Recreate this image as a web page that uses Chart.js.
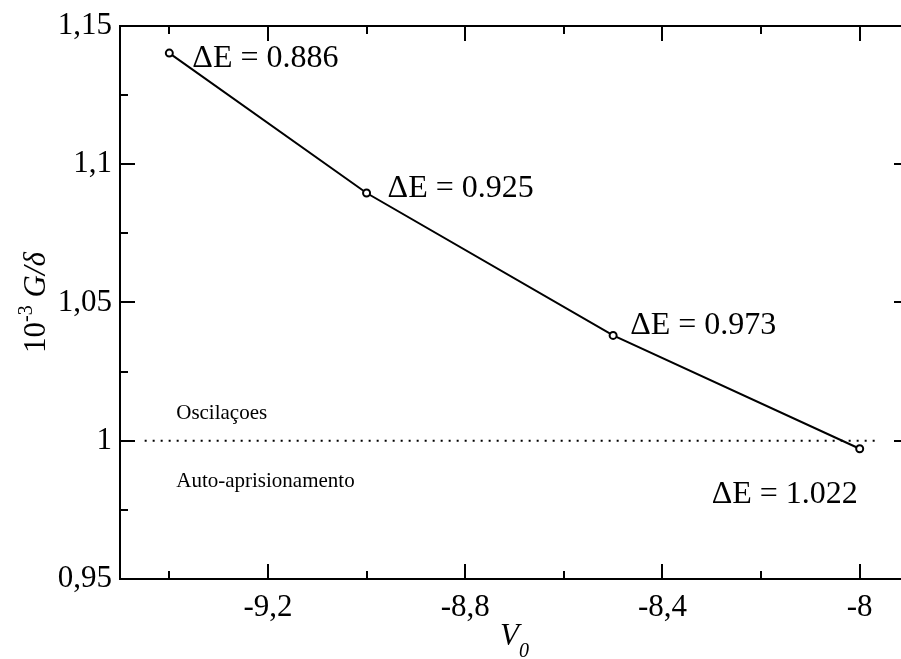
<!DOCTYPE html>
<html>
<head>
<meta charset="utf-8">
<script src="https://cdn.jsdelivr.net/npm/chart.js@4.4.1/dist/chart.umd.min.js"></script>
<style>
  html, body { margin: 0; padding: 0; background: #fff; overflow: hidden; }
  #frame { width: 901px; height: 659px; overflow: hidden; position: relative; }
  #chart { position: absolute; left: 0; top: 0; }
</style>
</head>
<body>
<div id="frame"><canvas id="chart" width="910" height="659"></canvas></div>
<script>
// data
const v0Values = [-9.4, -9.0, -8.5, -8.0];
const gValues = [1.1402, 1.0896, 1.0381, 0.9971];
const deltaELabels = ['0.886', '0.925', '0.973', '1.022'];
const xMajorTicks = [-9.2, -8.8, -8.4, -8.0];
const xMinorTicks = [-9.4, -9.0, -8.6, -8.2];
const yMajorTicks = [0.95, 1.0, 1.05, 1.1, 1.15];
const yMinorTicks = [0.975, 1.025, 1.075, 1.125];
const thresholdX = [-9.45, -7.965];
const thresholdY = 1;

const SERIF = '"Liberation Serif", "Times New Roman", serif';
// where each ΔE label sits relative to its point (px)
const labelOffsets = [[23, 14], [21, 4], [17, -1], [-148, 54]];

const fmt = v => String(v).replace('.', ',');

// frame, inward ticks and the text annotations
const decorations = {
  id: 'decorations',
  afterDraw(chart) {
    const ctx = chart.ctx;
    const { left, right, top, bottom } = chart.chartArea;
    const xs = chart.scales.x, ys = chart.scales.y;

    ctx.save();
    ctx.strokeStyle = '#000';
    ctx.lineWidth = 2;
    ctx.strokeRect(left, top, right - left, bottom - top);

    ctx.beginPath();
    const tickX = (vals, len) => vals.forEach(v => {
      const px = Math.round(xs.getPixelForValue(v));
      ctx.moveTo(px, bottom); ctx.lineTo(px, bottom - len);
      ctx.moveTo(px, top); ctx.lineTo(px, top + len);
    });
    const tickY = (vals, len) => vals.forEach(v => {
      const py = Math.round(ys.getPixelForValue(v));
      ctx.moveTo(left, py); ctx.lineTo(left + len, py);
      ctx.moveTo(right, py); ctx.lineTo(right - len, py);
    });
    tickX(xMajorTicks, 15); tickX(xMinorTicks, 8);
    tickY(yMajorTicks, 15); tickY(yMinorTicks, 8);
    ctx.stroke();

    // ΔE annotations
    ctx.fillStyle = '#000';
    ctx.textBaseline = 'alphabetic';
    ctx.textAlign = 'left';
    ctx.font = '32px ' + SERIF;
    v0Values.forEach((v, i) => {
      const px = xs.getPixelForValue(v), py = ys.getPixelForValue(gValues[i]);
      ctx.fillText('\u0394E = ' + deltaELabels[i], px + labelOffsets[i][0], py + labelOffsets[i][1]);
    });

    // regime labels either side of the threshold
    const ty = ys.getPixelForValue(thresholdY);
    const tx = xs.getPixelForValue(-9.386);
    ctx.font = '21px ' + SERIF;
    ctx.fillText('Oscilaçoes', tx, ty - 22);
    ctx.fillText('Auto-aprisionamento', tx, ty + 46);

    // x title: V with subscript 0
    ctx.font = 'italic 31px ' + SERIF;
    const wV = ctx.measureText('V').width;
    ctx.font = 'italic 20px ' + SERIF;
    const w0 = ctx.measureText('0').width;
    let x0 = (left + right) / 2 - (wV + w0) / 2;
    ctx.font = 'italic 31px ' + SERIF;
    ctx.fillText('V', x0, 645);
    ctx.font = 'italic 20px ' + SERIF;
    ctx.fillText('0', x0 + wV, 657);

    // y title: 10^-3 G/δ, rotated
    ctx.translate(45, (top + bottom) / 2);
    ctx.rotate(-Math.PI / 2);
    const parts = [
      ['10', '31px ' + SERIF, 0],
      ['-3', '20px ' + SERIF, -13],
      [' ', '31px ' + SERIF, 0],
      ['G/\u03b4', 'italic 31px ' + SERIF, 0]
    ];
    let total = 0;
    parts.forEach(p => { ctx.font = p[1]; total += ctx.measureText(p[0]).width; });
    let cx = -total / 2;
    parts.forEach(p => {
      ctx.font = p[1];
      ctx.fillText(p[0], cx, p[2]);
      cx += ctx.measureText(p[0]).width;
    });
    ctx.restore();
  }
};

new Chart(document.getElementById('chart'), {
  type: 'scatter',
  data: {
    datasets: [
      {
        data: v0Values.map((v, i) => ({ x: v, y: gValues[i] })),
        showLine: true,
        borderColor: '#000',
        borderWidth: 2,
        backgroundColor: '#fff',
        pointRadius: 3.5,
        pointBorderWidth: 2,
        pointBorderColor: '#000',
        pointBackgroundColor: '#fff'
      },
      {
        data: thresholdX.map(v => ({ x: v, y: thresholdY })),
        showLine: true,
        borderColor: '#000',
        borderWidth: 2,
        borderDash: [2, 6],
        pointRadius: 0,
        order: 1
      }
    ]
  },
  options: {
    responsive: false,
    animation: false,
    events: [],
    // canvas is wider than the page, so the frame's right edge runs off it
    layout: { autoPadding: false, padding: { top: 26, right: 1, left: 0, bottom: 0 } },
    plugins: { legend: { display: false }, tooltip: { enabled: false } },
    scales: {
      x: {
        type: 'linear',
        min: -9.5,
        max: -7.9,
        grid: { display: false, drawTicks: false },
        border: { display: false },
        afterBuildTicks: s => { s.ticks = xMajorTicks.map(v => ({ value: v })); },
        afterFit: s => { s.height = 80; s.paddingLeft = 0; s.paddingRight = 0; },
        ticks: {
          color: '#000',
          padding: 10,
          maxRotation: 0,
          font: { family: SERIF, size: 31 },
          callback: v => fmt(v)
        }
      },
      y: {
        type: 'linear',
        min: 0.95,
        max: 1.15,
        grid: { display: false, drawTicks: false },
        border: { display: false },
        afterBuildTicks: s => { s.ticks = yMajorTicks.map(v => ({ value: v })); },
        afterFit: s => { s.width = 120; s.paddingTop = 0; s.paddingBottom = 0; },
        ticks: {
          color: '#000',
          padding: 8,
          font: { family: SERIF, size: 31 },
          callback: v => fmt(v)
        }
      }
    }
  },
  plugins: [decorations]
});
</script>
</body>
</html>
